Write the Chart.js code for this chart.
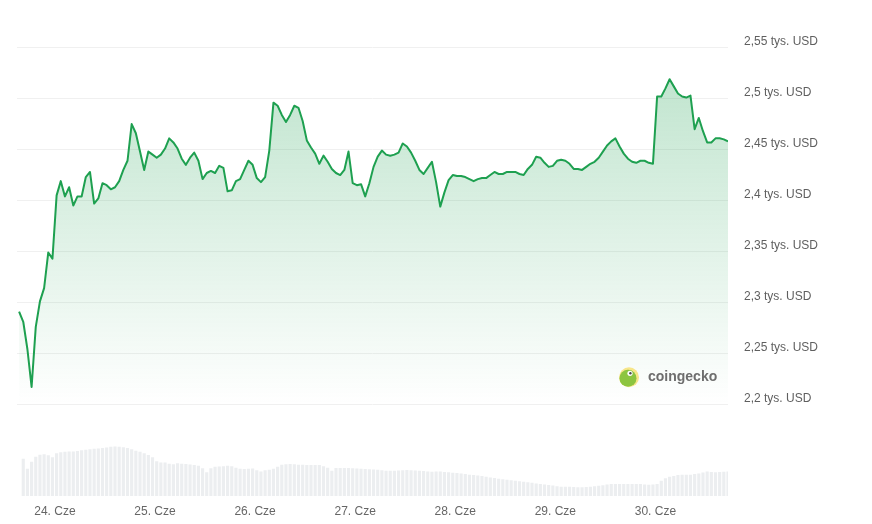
<!DOCTYPE html>
<html>
<head>
<meta charset="utf-8">
<script src="https://cdn.jsdelivr.net/npm/chart.js@4/dist/chart.umd.min.js"></script>
<style>
body{margin:0;background:#fff}
#wrap{width:872px;height:524px;position:relative}
</style>
</head>
<body>
<div id="wrap"><canvas id="myChart"></canvas></div>
<script>
// godziny liczone od 24. Cze 00:00, punkty co godzine
const firstHour=-8.6

// cena w USD
const prices=[
2291,2281,2254,2217,2276,2301,2314,2349,2343,2405,
2419,2404,2413,2395,2404,2404,2423,2428,2397,2402,
2417,2415,2411,2413,2419,2430,2439,2475,2466,2448,
2430,2448,2445,2442,2445,2451,2461,2457,2451,2441,
2435,2442,2447,2439,2421,2427,2429,2427,2434,2432,
2409,2410,2419,2421,2430,2439,2435,2422,2418,2423,
2449,2496,2493,2484,2477,2484,2493,2491,2478,2459,
2452,2446,2436,2444,2438,2431,2427,2425,2430,2448,
2417,2415,2416,2404,2417,2433,2443,2449,2445,2444,
2445,2447,2456,2453,2447,2439,2430,2426,2432,2438,
2418,2394,2408,2420,2425,2424,2424,2423,2421,2419,
2421,2422,2422,2425,2428,2426,2426,2428,2428,2428,
2426,2425,2431,2435,2443,2442,2437,2433,2434,2439,
2440,2439,2436,2431,2431,2430,2433,2436,2438,2442,
2448,2454,2458,2461,2453,2446,2441,2438,2437,2439,
2439,2437,2436,2502,2502,2510,2519,2512,2505,2502,
2501,2503,2470,2481,2468,2457,2457,2461,2461,2460,
2458
]

// wolumen (mln USD), od drugiej godziny
const volumes=[
740,540,680,780,820,830,810,770,850,870,
880,886,886,894,910,920,930,940,944,954,
964,980,984,980,970,954,930,900,880,850,
814,770,690,666,666,640,630,650,640,634,
626,616,600,550,470,550,580,586,590,600,
590,560,540,536,540,546,510,484,510,520,
540,580,620,630,634,628,620,620,616,614,
614,614,590,560,500,554,554,554,552,550,
546,540,536,530,524,520,510,500,500,500,
504,510,512,508,504,500,492,484,480,484,
486,476,468,460,452,442,432,420,412,404,
392,380,364,352,340,328,320,310,300,288,
280,270,260,246,234,224,216,204,190,180,
180,180,174,170,170,174,180,190,198,210,
224,234,234,234,234,234,234,234,234,226,
220,224,232,300,350,380,396,412,420,420,
420,432,444,464,486,476,468,474,480,486
]

const priceTicks=[2200,2250,2300,2350,2400,2450,2500,2550]
const priceTickLabels=['2,2 tys. USD','2,25 tys. USD','2,3 tys. USD','2,35 tys. USD','2,4 tys. USD','2,45 tys. USD','2,5 tys. USD','2,55 tys. USD']
const dayTicks=[0,24,48,72,96,120,144]
const dayLabels=['24. Cze','25. Cze','26. Cze','27. Cze','28. Cze','29. Cze','30. Cze']

const green='rgb(30,160,80)'
const font={family:'Arial, "Liberation Sans", sans-serif',size:12}

const priceData=prices.map((v,i)=>({x:firstHour+i,y:v}))
const volumeData=volumes.map((v,i)=>({x:firstHour+1+i,y:v}))

const watermark={
    id:'watermark',
    afterDatasetsDraw(chart){
        const c=chart.ctx
        const x=chart.chartArea.right-99
        const y=chart.scales.y.getPixelForValue(2200)-27
        c.save()
        c.fillStyle='#f7e68a'
        c.beginPath();c.arc(x,y,10,0,Math.PI*2);c.fill()
        c.fillStyle='#8cc540'
        c.beginPath();c.arc(x-1,y+1,8.5,0,Math.PI*2);c.fill()
        c.fillStyle='#fff'
        c.beginPath();c.arc(x+1,y-4,2.6,0,Math.PI*2);c.fill()
        c.fillStyle='#4a4a4a'
        c.beginPath();c.arc(x+1.4,y-4,1.2,0,Math.PI*2);c.fill()
        c.font='bold 14px Arial, "Liberation Sans", sans-serif'
        c.fillStyle='#6e6e6e'
        c.textAlign='left'
        c.textBaseline='middle'
        c.fillText('coingecko',x+19,y)
        c.restore()
    }
}

const ctx=document.getElementById('myChart').getContext('2d')
const myChart=new Chart(ctx,{
    type:'bar',
    data:{
        datasets:[
            {
                type:'line',
                label:'Cena',
                data:priceData,
                yAxisID:'y',
                borderColor:green,
                borderWidth:2,
                borderJoinStyle:'round',
                pointRadius:0,
                tension:0,
                order:0,
                fill:{value:2200},
                backgroundColor:c=>{
                    const ch=c.chart
                    if(!ch.chartArea) return 'rgba(30,160,80,0.1)'
                    const ys=ch.scales.y
                    const g=ch.ctx.createLinearGradient(0,ys.getPixelForValue(2525),0,ys.getPixelForValue(2200))
                    g.addColorStop(0,'rgba(30,160,80,0.28)')
                    g.addColorStop(1,'rgba(30,160,80,0)')
                    return g
                }
            },
            {
                type:'bar',
                label:'Wolumen',
                data:volumeData,
                yAxisID:'yv',
                backgroundColor:'#eceef0',
                barThickness:2.5,
                order:1
            }
        ]
    },
    options:{
        responsive:true,
        maintainAspectRatio:false,
        animation:false,
        layout:{padding:{left:17,top:17,right:0,bottom:0}},
        plugins:{legend:{display:false},tooltip:{enabled:false}},
        scales:{
            x:{
                type:'linear',
                min:-9.1,
                max:161.4,
                offset:false,
                grid:{display:false},
                border:{display:false},
                afterBuildTicks:s=>{s.ticks=dayTicks.map(v=>({value:v}))},
                afterFit:s=>{s.height=28},
                ticks:{
                    autoSkip:false,
                    maxRotation:0,
                    padding:0,
                    color:'#666',
                    font,
                    callback:v=>dayLabels[dayTicks.indexOf(v)]
                }
            },
            y:{
                type:'linear',
                position:'right',
                min:2110,
                max:2574,
                grid:{color:'#f0f0f0',drawTicks:false},
                border:{display:false},
                afterBuildTicks:s=>{s.ticks=priceTicks.map(v=>({value:v}))},
                afterFit:s=>{s.width=144},
                ticks:{
                    autoSkip:false,
                    padding:16,
                    labelOffset:-6,
                    color:'#5f5f5f',
                    font,
                    callback:v=>priceTickLabels[priceTicks.indexOf(v)]
                }
            },
            yv:{
                type:'linear',
                display:false,
                min:0,
                max:9466
            }
        }
    },
    plugins:[watermark]
})
</script>
</body>
</html>
